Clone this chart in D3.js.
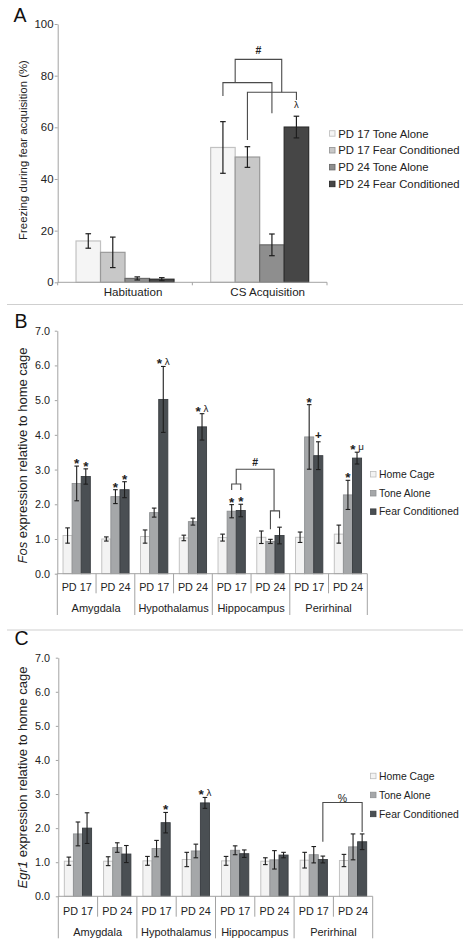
<!DOCTYPE html>
<html><head><meta charset="utf-8">
<script src="https://cdn.jsdelivr.net/npm/d3@7"></script>
<style>body{margin:0;background:#fff}svg{display:block;font-family:"Liberation Sans",Arial,sans-serif}</style>
</head><body>
<svg id="c" width="469" height="945"></svg>
<script>
// ---------- Panel A data ----------
const groupsA = ["Habituation", "CS Acquisition"];
const seriesA = ["PD 17 Tone Alone", "PD 17 Fear Conditioned", "PD 24 Tone Alone", "PD 24 Fear Conditioned"];
const pd17ToneA = [16.0, 52.2], pd17ToneErrA = [2.8, 10.0];
const pd17FearA = [11.6, 48.5], pd17FearErrA = [5.9, 4.0];
const pd24ToneA = [1.5, 14.5], pd24ToneErrA = [0.6, 4.2];
const pd24FearA = [1.2, 60.1], pd24FearErrA = [0.6, 4.2];
const ticksA = [0, 20, 40, 60, 80, 100];
// brackets: bar indices (fractional) inside CS Acquisition group, levels in % units
const bracketsA = [
  {g: 1, from: 0, to: 2, level: 77.3, leftEnd: 72.1, rightEnd: 65.4, label: ""},
  {g: 1, from: 1, to: 3, level: 73.6, leftEnd: 55.1, rightEnd: 70.6, label: ""},
  {g: 1, from: 0.5, to: 2.4, level: 86.3, leftEnd: 77.3, rightEnd: 73.6, label: "#"}
];
const annotA = [{g: 1, s: 3, text: "λ"}];

// ---------- Panels B/C data ----------
const regions = ["Amygdala", "Hypothalamus", "Hippocampus", "Perirhinal"];
const ages = ["PD 17", "PD 24"];
const seriesBC = ["Home Cage", "Tone Alone", "Fear Conditioned"];
const tickValsBC = [0, 1, 2, 3, 4, 5, 6, 7];

const fosHome = [1.1, 1.0, 1.07, 1.03, 1.04, 1.05, 1.05, 1.14];
const fosHomeErr = [0.22, 0.06, 0.19, 0.08, 0.1, 0.18, 0.15, 0.26];
const fosTone = [2.6, 2.22, 1.76, 1.5, 1.8, 0.93, 3.94, 2.27];
const fosToneErr = [0.5, 0.2, 0.13, 0.1, 0.19, 0.06, 0.93, 0.42];
const fosFear = [2.8, 2.42, 5.02, 4.23, 1.82, 1.1, 3.4, 3.33];
const fosFearErr = [0.22, 0.23, 0.95, 0.38, 0.18, 0.24, 0.4, 0.17];

const egrHome = [1.03, 1.03, 1.04, 1.08, 1.04, 1.03, 1.06, 1.05];
const egrHomeErr = [0.12, 0.13, 0.13, 0.21, 0.13, 0.1, 0.23, 0.18];
const egrTone = [1.83, 1.43, 1.4, 1.33, 1.35, 1.07, 1.22, 1.45];
const egrToneErr = [0.35, 0.14, 0.24, 0.2, 0.13, 0.27, 0.24, 0.38];
const egrFear = [2.0, 1.24, 2.16, 2.74, 1.25, 1.21, 1.08, 1.6];
const egrFearErr = [0.45, 0.25, 0.3, 0.16, 0.11, 0.08, 0.1, 0.23];

const annotB = [
  {c: 0, s: 1, text: ["*"]}, {c: 0, s: 2, text: ["*"]},
  {c: 1, s: 1, text: ["*"]}, {c: 1, s: 2, text: ["*"]},
  {c: 2, s: 2, text: ["*", "λ"]}, {c: 3, s: 2, text: ["*", "λ"]},
  {c: 4, s: 1, text: ["*"]}, {c: 4, s: 2, text: ["*"]},
  {c: 6, s: 1, text: ["*"]}, {c: 6, s: 2, text: ["+"]},
  {c: 7, s: 1, text: ["*"]}, {c: 7, s: 2, text: ["*", "μ"]}
];
const bracketsB = [
  {c1: 4, i1: 1, c2: 4, i2: 2, level: 2.585, leftEnd: 2.41, rightEnd: 2.41, label: ""},
  {c1: 5, i1: 1, c2: 5, i2: 2, level: 1.81, leftEnd: 1.28, rightEnd: 1.6, label: ""},
  {c1: 4, i1: 1.5, c2: 5, i2: 1.4, level: 3.01, leftEnd: 2.585, rightEnd: 1.81, label: "#"}
];
const annotC = [{c: 2, s: 2, text: ["*"]}, {c: 3, s: 2, text: ["*", "λ"]}];
const bracketsC = [
  {c1: 6, i1: 2, c2: 7, i2: 2, level: 2.75, leftEnd: 1.6, rightEnd: 1.89, label: "%"}
];

// ---------- drawing ----------
const svg = d3.select("#c");
const TXT = "#222222", AX = "#a3a3a3", ERR = "#1e1e1e", BR = "#4a4a4a";

[304.5, 630].forEach(y => svg.append("line").attr("x1", 7).attr("x2", 463)
  .attr("y1", y).attr("y2", y).attr("stroke", "#cfcfcf").attr("stroke-width", 1));

function styleAxis(g, fs) {
  g.select(".domain").attr("stroke", AX).attr("stroke-width", 1);
  g.selectAll(".tick line").attr("stroke", AX);
  g.selectAll(".tick text").attr("fill", TXT).attr("font-size", fs)
    .attr("font-family", '"Liberation Sans",Arial,sans-serif');
}

// ===== Panel A =====
(function () {
  const vals = [pd17ToneA, pd17FearA, pd24ToneA, pd24FearA];
  const errs = [pd17ToneErrA, pd17FearErrA, pd24ToneErrA, pd24FearErrA];
  const fills = ["#f5f5f5", "#c8c8c8", "#8e8e8e", "#464646"];
  const strokes = ["#c2c2c2", "#999999", "#6a6a6a", "#2c2c2c"];
  const y = d3.scaleLinear().domain([0, 100]).range([282.3, 24]);
  const x = d3.scaleBand().domain(groupsA).range([57.7, 327]).padding(0);
  const xi = d3.scaleBand().domain(seriesA).range([0, x.bandwidth()]).paddingInner(0).paddingOuter(0.748);
  const g = svg.append("g");
  const data = [];
  seriesA.forEach((s, si) => groupsA.forEach((gr, gi) =>
    data.push({s, si, gr, v: vals[si][gi], e: errs[si][gi]})));
  g.selectAll("rect.bar").data(data).join("rect").attr("class", "bar")
    .attr("x", d => x(d.gr) + xi(d.s)).attr("y", d => y(d.v))
    .attr("width", xi.bandwidth()).attr("height", d => y(0) - y(d.v))
    .attr("fill", d => fills[d.si]).attr("stroke", d => strokes[d.si]).attr("stroke-width", 1.2);
  const cx = d => x(d.gr) + xi(d.s) + xi.bandwidth() / 2;
  const eb = g.selectAll("g.err").data(data).join("g").attr("class", "err")
    .attr("stroke", ERR).attr("stroke-width", 1.2);
  eb.append("line").attr("x1", cx).attr("x2", cx).attr("y1", d => y(d.v + d.e)).attr("y2", d => y(Math.max(0, d.v - d.e)));
  eb.append("line").attr("x1", d => cx(d) - 2.8).attr("x2", d => cx(d) + 2.8).attr("y1", d => y(d.v + d.e)).attr("y2", d => y(d.v + d.e));
  eb.append("line").attr("x1", d => cx(d) - 2.8).attr("x2", d => cx(d) + 2.8).attr("y1", d => y(Math.max(0, d.v - d.e))).attr("y2", d => y(Math.max(0, d.v - d.e)));

  // axes
  const ya = svg.append("g").attr("transform", "translate(57.7,0)")
    .call(d3.axisLeft(y).tickValues(ticksA).tickSize(3).tickSizeOuter(0).tickPadding(1.2));
  styleAxis(ya, "11.4px");
  svg.append("line").attr("x1", 57.7).attr("x2", 327).attr("y1", y(0)).attr("y2", y(0)).attr("stroke", AX);
  const bounds = groupsA.map(d => x(d)).concat([x.range()[1]]);
  bounds.forEach(b => svg.append("line").attr("x1", b).attr("x2", b).attr("y1", y(0)).attr("y2", y(0) + 3).attr("stroke", AX));
  groupsA.forEach(gr => svg.append("text").attr("x", x(gr) + x.bandwidth() / 2 + 8).attr("y", 296)
    .attr("text-anchor", "middle").attr("font-size", "11.6px").attr("fill", TXT).text(gr));
  svg.append("text").attr("transform", "translate(22.7,150) rotate(-90)").attr("dy", "0.35em")
    .attr("text-anchor", "middle").attr("font-size", "11.4px").attr("fill", TXT)
    .text("Freezing during fear acquisition (%)");
  svg.append("text").attr("x", 13.5).attr("y", 22.3).attr("font-size", "19.5px").attr("fill", "#111").text("A");

  // brackets
  const bx = (gi, idx) => x(groupsA[gi]) + xi(seriesA[0]) + (idx + 0.5) * xi.bandwidth();
  bracketsA.forEach(b => {
    const x1 = bx(b.g, b.from), x2 = bx(b.g, b.to);
    svg.append("path").attr("fill", "none").attr("stroke", BR).attr("stroke-width", 1.1)
      .attr("d", `M${x1},${y(b.leftEnd)}V${y(b.level)}H${x2}V${y(b.rightEnd)}`);
    if (b.label) svg.append("text").attr("x", (x1 + x2) / 2).attr("y", y(b.level) - 5)
      .attr("text-anchor", "middle").attr("font-size", "10.5px").attr("font-weight", "bold").attr("fill", TXT).text(b.label);
  });
  annotA.forEach(a => {
    const top = vals[a.s][a.g] + errs[a.s][a.g];
    svg.append("text").attr("x", bx(a.g, a.s)).attr("y", y(top) - 8).attr("text-anchor", "middle")
      .attr("font-size", "9.5px").attr("fill", TXT).text(a.text);
  });

  // legend
  const rows = [133.5, 150.3, 167.2, 184];
  seriesA.forEach((s, i) => {
    svg.append("rect").attr("x", 329.5).attr("y", rows[i] - 2.8).attr("width", 5.5).attr("height", 5.5)
      .attr("fill", fills[i]).attr("stroke", strokes[i]).attr("stroke-width", 0.9);
    svg.append("text").attr("x", 338.3).attr("y", rows[i]).attr("dy", "0.36em").attr("font-size", "11.3px")
      .attr("fill", TXT).text(s);
  });
})();

// ===== Panels B & C =====
function drawExpr(cfg) {
  const cats = [];
  regions.forEach(r => ages.forEach(a => cats.push(r + " " + a)));
  const y = d3.scaleLinear().domain([0, 7]).range([cfg.yBottom, cfg.yTop]);
  const x = d3.scaleBand().domain(cats).range([cfg.x0, cfg.x1]).padding(0);
  const xi = d3.scaleBand().domain(seriesBC).range([0, x.bandwidth()]).paddingInner(0).paddingOuter(cfg.pad);
  const fills = ["#f3f3f3", "#a5a7a9", "#4a4f53"];
  const strokes = ["#bdbdbd", "#8f9193", "#393d41"];
  const data = [];
  seriesBC.forEach((s, si) => cats.forEach((c, ci) =>
    data.push({s, si, c, ci, v: cfg.vals[si][ci], e: cfg.errs[si][ci]})));
  const g = svg.append("g");
  g.selectAll("rect").data(data).join("rect")
    .attr("x", d => x(d.c) + xi(d.s)).attr("y", d => y(d.v))
    .attr("width", xi.bandwidth()).attr("height", d => y(0) - y(d.v))
    .attr("fill", d => fills[d.si]).attr("stroke", d => strokes[d.si]).attr("stroke-width", 0.9);
  const cx = d => x(d.c) + xi(d.s) + xi.bandwidth() / 2;
  const eb = g.selectAll("g.err").data(data).join("g").attr("class", "err")
    .attr("stroke", ERR).attr("stroke-width", 1.1);
  eb.append("line").attr("x1", cx).attr("x2", cx).attr("y1", d => y(d.v + d.e)).attr("y2", d => y(d.v - d.e));
  eb.append("line").attr("x1", d => cx(d) - 2.3).attr("x2", d => cx(d) + 2.3).attr("y1", d => y(d.v + d.e)).attr("y2", d => y(d.v + d.e));
  eb.append("line").attr("x1", d => cx(d) - 2.3).attr("x2", d => cx(d) + 2.3).attr("y1", d => y(d.v - d.e)).attr("y2", d => y(d.v - d.e));

  // y axis
  const ya = svg.append("g").attr("transform", `translate(${cfg.x0},0)`)
    .call(d3.axisLeft(y).tickValues(tickValsBC).tickFormat(d3.format(".1f")).tickSize(2.5).tickSizeOuter(0).tickPadding(cfg.tickPad));
  styleAxis(ya, "10.8px");
  // category axis
  svg.append("line").attr("x1", cfg.x0).attr("x2", cfg.x1).attr("y1", y(0)).attr("y2", y(0)).attr("stroke", AX);
  const bounds = cats.map(c => x(c)).concat([cfg.x1]);
  bounds.forEach((b, i) => svg.append("line").attr("x1", b).attr("x2", b).attr("y1", y(0))
    .attr("y2", i % 2 === 0 ? cfg.longY : cfg.shortY).attr("stroke", AX));
  cats.forEach((c, ci) => svg.append("text").attr("x", x(c) + x.bandwidth() / 2).attr("y", cfg.ageY)
    .attr("text-anchor", "middle").attr("font-size", "10.8px").attr("fill", TXT).text(ages[ci % 2]));
  regions.forEach((r, ri) => svg.append("text").attr("x", x(cats[ri * 2]) + x.bandwidth()).attr("y", cfg.regY)
    .attr("text-anchor", "middle").attr("font-size", "11px").attr("fill", TXT).text(r));
  // y title
  const t = svg.append("text").attr("transform", `translate(22.7,${cfg.titleY}) rotate(-90)`).attr("dy", "0.35em")
    .attr("text-anchor", "middle").attr("font-size", "13px").attr("fill", TXT);
  t.append("tspan").attr("font-style", "italic").text(cfg.gene);
  t.append("tspan").text(" expression relative to home cage");
  svg.append("text").attr("x", 14.5).attr("y", cfg.letterY).attr("font-size", "19.5px").attr("fill", "#111").text(cfg.letter);

  // annotations
  const bx = (ci, idx) => x(cats[ci]) + xi(seriesBC[0]) + (idx + 0.5) * xi.bandwidth();
  cfg.annots.forEach(a => {
    const top = y(cfg.vals[a.s][a.c] + cfg.errs[a.s][a.c]);
    const te = svg.append("text").attr("x", bx(a.c, a.s)).attr("text-anchor", "middle").attr("fill", TXT);
    if (a.text[0] === "+") {
      te.attr("y", top - 3).attr("font-size", "11.5px").attr("font-weight", "bold").text("+");
    } else {
      te.attr("y", top + 2);
      te.append("tspan").attr("font-size", "13.5px").attr("font-weight", "bold").text(a.text[0]);
      if (a.text[1]) te.append("tspan").attr("font-size", "9.8px").attr("dy", -3.8).text(" " + a.text[1]);
    }
  });
  cfg.brackets.forEach(b => {
    const x1 = bx(b.c1, b.i1), x2 = bx(b.c2, b.i2);
    svg.append("path").attr("fill", "none").attr("stroke", BR).attr("stroke-width", 1.1)
      .attr("d", `M${x1},${y(b.leftEnd)}V${y(b.level)}H${x2}V${y(b.rightEnd)}`);
    if (b.label) svg.append("text").attr("x", (x1 + x2) / 2).attr("y", y(b.level) - (b.label === "%" ? 1 : 3.5))
      .attr("text-anchor", "middle").attr("font-size", "10.5px")
      .attr("font-weight", b.label === "#" ? "bold" : "normal").attr("fill", TXT).text(b.label);
  });
  // legend
  seriesBC.forEach((s, i) => {
    const ry = cfg.legRows[i];
    svg.append("rect").attr("x", 370.5).attr("y", ry - 2.8).attr("width", 5.5).attr("height", 5.5)
      .attr("fill", fills[i]).attr("stroke", strokes[i]).attr("stroke-width", 0.8);
    svg.append("text").attr("x", 379).attr("y", ry).attr("dy", "0.36em").attr("font-size", "10.4px")
      .attr("fill", TXT).text(s);
  });
}

drawExpr({
  vals: [fosHome, fosTone, fosFear], errs: [fosHomeErr, fosToneErr, fosFearErr],
  x0: 57.3, x1: 367.3, yTop: 330.7, yBottom: 573.7, pad: 0.629, tickPad: 4.8,
  shortY: 593.3, longY: 615, ageY: 591.2, regY: 612.2, titleY: 455.5,
  gene: "Fos", letter: "B", letterY: 327.5, legRows: [474.3, 493.3, 511.7],
  annots: annotB, brackets: bracketsB
});
drawExpr({
  vals: [egrHome, egrTone, egrFear], errs: [egrHomeErr, egrToneErr, egrFearErr],
  x0: 58.3, x1: 372.7, yTop: 657.7, yBottom: 896.3, pad: 0.66, tickPad: 5.8,
  shortY: 916.7, longY: 938.3, ageY: 915, regY: 936.2, titleY: 777.5,
  gene: "Egr1", letter: "C", letterY: 645, legRows: [776, 795, 814],
  annots: annotC, brackets: bracketsC
});
</script>
</body></html>
